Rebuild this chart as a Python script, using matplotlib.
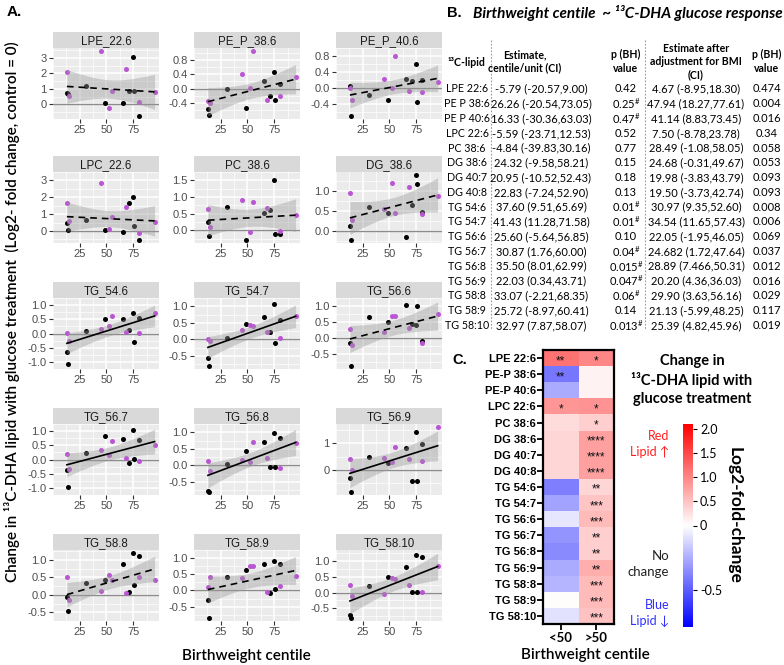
import numpy as np
import matplotlib
matplotlib.use("Agg")
import matplotlib.pyplot as plt
from matplotlib.colors import LinearSegmentedColormap, TwoSlopeNorm
import matplotlib.colorbar as mcolorbar

plt.rcParams['mathtext.fontset'] = 'custom'
plt.rcParams['mathtext.rm'] = 'Lato'
plt.rcParams['mathtext.bf'] = 'Lato:bold'

# ---------------- data: panel A ----------------
X_BLACK = [13.5, 14, 31, 49, 65.5, 71, 74.5, 76, 80]
X_PURPLE = [13, 15, 45, 52, 55, 68.5, 80, 95]

LIPIDS = ["LPE_22.6", "PE_P_38.6", "PE_P_40.6", "LPC_22.6", "PC_38.6", "DG_38.6",
          "TG_54.6", "TG_54.7", "TG_56.6", "TG_56.7", "TG_56.8", "TG_56.9",
          "TG_58.8", "TG_58.9", "TG_58.10"]
SIGNIFICANT = [False, False, False, False, False, False,
               True, True, False, True, True, True, False, False, True]

LPE_22_6_BLACK = [0.70, 0.65, 1.17, 0.11, 0.11, 0.88, 3.05, 0.88, -0.75]
LPE_22_6_PURPLE = [2.07, 0.55, 3.44, -0.22, 0.86, 2.30, 0.13, 0.80]
PE_P_38_6_BLACK = [-0.58, -0.74, 0.00, -0.55, 0.21, -0.21, 0.47, -0.32, 0.13]
PE_P_38_6_PURPLE = [-0.35, -0.42, 0.42, 0.02, 1.06, -0.34, -0.21, 0.34]
PE_P_40_6_BLACK = [0.05, -0.71, -0.17, -0.32, 0.23, 0.16, 0.61, -0.37, 0.19]
PE_P_40_6_PURPLE = [0.00, -0.30, 0.22, 0.00, 0.80, -0.08, -0.10, 0.14]
LPC_22_6_BLACK = [0.48, 0.05, 0.63, 0.04, -0.04, 1.66, 2.02, 0.27, -0.54]
LPC_22_6_PURPLE = [1.64, 0.57, 2.82, 0.14, 0.86, 1.43, -0.14, 0.54]
PC_38_6_BLACK = [0.24, -0.17, 0.71, -0.29, 0.52, 0.61, 1.50, -0.12, -0.12]
PC_38_6_PURPLE = [0.65, 0.10, 0.90, -0.05, 0.84, 0.66, -0.03, 0.47]
DG_38_6_BLACK = [0.13, -0.22, 0.61, 0.44, -0.15, 0.65, 1.40, 1.17, 0.48]
DG_38_6_PURPLE = [0.95, 0.28, 0.56, 1.20, 0.44, 1.10, 0.43, 0.87]
TG_54_6_BLACK = [-0.65, -1.09, 0.09, 0.50, 0.50, 0.11, 0.72, -0.29, 0.54]
TG_54_6_PURPLE = [0.03, -0.26, 0.16, 0.28, 0.60, 0.07, 0.03, 0.72]
TG_54_7_BLACK = [-0.55, -0.80, 0.04, 0.47, 0.67, 0.22, 1.06, -0.10, 0.60]
TG_54_7_PURPLE = [0.00, -0.04, 0.29, 0.44, 0.39, 0.22, 0.04, 0.70]
TG_56_6_BLACK = [-0.14, -0.86, 0.65, 0.50, 1.02, 0.45, 0.40, 1.00, -0.10]
TG_56_6_PURPLE = [0.28, -0.21, 0.18, 0.70, 0.68, 0.32, -0.16, 0.74]
TG_56_7_BLACK = [-0.37, -0.96, 0.24, 0.84, 0.73, -0.13, 1.03, 0.03, 0.67]
TG_56_7_PURPLE = [0.19, -0.34, 0.35, 0.16, 0.64, 0.06, -0.07, 0.51]
TG_56_8_BLACK = [-0.77, -0.80, 0.05, 0.43, 0.72, -0.05, 0.98, -0.05, 0.82]
TG_56_8_PURPLE = [0.13, -0.17, 0.15, 0.10, 0.72, 0.22, -0.07, 0.68]
TG_56_9_BLACK = [-0.32, -0.84, 0.49, 0.26, 0.82, -0.43, 1.43, -0.43, 0.97]
TG_56_9_PURPLE = [0.42, 0.00, 0.43, 0.28, 0.88, 0.40, 0.35, 1.62]
TG_58_8_BLACK = [-0.07, -0.46, 0.35, 0.41, 0.87, 0.08, 1.20, 0.27, 1.10]
TG_58_8_PURPLE = [0.50, -0.16, 0.10, 0.57, 0.41, 0.06, 0.52, 0.41]
TG_58_9_BLACK = [-0.29, -0.85, 0.42, 0.62, 0.81, -0.08, 0.91, 0.05, 0.81]
TG_58_9_PURPLE = [0.12, 0.42, 0.38, 0.74, 0.74, -0.05, 0.13, 0.45]
TG_58_10_BLACK = [-0.71, -0.80, 0.22, 0.51, 0.80, 0.03, 1.21, 0.03, 1.13]
TG_58_10_PURPLE = [0.25, -0.11, -0.04, 0.47, 0.42, 0.25, 0.03, 0.83]

Y_BLACK = [LPE_22_6_BLACK, PE_P_38_6_BLACK, PE_P_40_6_BLACK, LPC_22_6_BLACK, PC_38_6_BLACK,
           DG_38_6_BLACK, TG_54_6_BLACK, TG_54_7_BLACK, TG_56_6_BLACK, TG_56_7_BLACK,
           TG_56_8_BLACK, TG_56_9_BLACK, TG_58_8_BLACK, TG_58_9_BLACK, TG_58_10_BLACK]
Y_PURPLE = [LPE_22_6_PURPLE, PE_P_38_6_PURPLE, PE_P_40_6_PURPLE, LPC_22_6_PURPLE, PC_38_6_PURPLE,
            DG_38_6_PURPLE, TG_54_6_PURPLE, TG_54_7_PURPLE, TG_56_6_PURPLE, TG_56_7_PURPLE,
            TG_56_8_PURPLE, TG_56_9_PURPLE, TG_58_8_PURPLE, TG_58_9_PURPLE, TG_58_10_PURPLE]

Y_TICKS = [[0, 1, 2, 3], [-0.4, 0, 0.4, 0.8], [-0.4, 0, 0.4, 0.8], [0, 1, 2, 3],
           [0, 0.5, 1.0, 1.5], [0, 0.5, 1.0], [-1, -0.5, 0, 0.5, 1], [-0.5, 0, 0.5, 1],
           [-0.5, 0, 0.5, 1], [-1, -0.5, 0, 0.5, 1], [-0.5, 0, 0.5, 1], [0, 1],
           [-0.5, 0, 0.5, 1], [-0.5, 0, 0.5, 1], [-0.5, 0, 0.5, 1]]
X_TICKS = [25, 50, 75]

# ---------------- data: table B ----------------
TAB_LIPIDS = ["LPE 22:6", "PE P 38:6", "PE P 40:6", "LPC 22:6", "PC 38:6", "DG 38:6", "DG 40:7",
              "DG 40:8", "TG 54:6", "TG 54:7", "TG 56:6", "TG 56:7", "TG 56:8", "TG 56:9",
              "TG 58:8", "TG 58:9", "TG 58:10"]
TAB_EST = ["-5.79 (-20.57,9.00)", "26.26 (-20.54,73.05)", "16.33 (-30.36,63.03)",
           "-5.59 (-23.71,12.53)", "-4.84 (-39.83,30.16)", "24.32 (-9.58,58.21)",
           "20.95 (-10.52,52.43)", "22.83 (-7.24,52.90)", "37.60 (9.51,65.69)",
           "41.43 (11.28,71.58)", "25.60 (-5.64,56.85)", "30.87 (1.76,60.00)",
           "35.50 (8.01,62.99)", "22.03 (0.34,43.71)", "33.07 (-2.21,68.35)",
           "25.72 (-8.97,60.41)", "32.97 (7.87,58.07)"]
TAB_P = ["0.42", "0.25#", "0.47#", "0.52", "0.77", "0.15", "0.18", "0.13", "0.01#", "0.01#",
         "0.10", "0.04#", "0.015#", "0.047#", "0.06#", "0.14", "0.013#"]
TAB_ADJ = ["4.67 (-8.95,18.30)", "47.94 (18.27,77.61)", "41.14 (8.83,73.45)",
           "7.50 (-8.78,23.78)", "28.49 (-1.08,58.05)", "24.68 (-0.31,49.67)",
           "19.98 (-3.83,43.79)", "19.50 (-3.73,42.74)", "30.97 (9.35,52.60)",
           "34.54 (11.65,57.43)", "22.05 (-1.95,46.05)", "24.682 (1.72,47.64)",
           "28.89 (7.466,50.31)", "20.20 (4.36,36.03)", "29.90 (3.63,56.16)",
           "21.13 (-5.99,48.25)", "25.39 (4.82,45.96)"]
TAB_P_ADJ = ["0.474", "0.004", "0.016", "0.34", "0.058", "0.053", "0.093", "0.093", "0.008",
             "0.006", "0.069", "0.037", "0.012", "0.016", "0.029", "0.117", "0.019"]

# ---------------- data: heatmap C ----------------
HM_LIPIDS = ["LPE 22:6", "PE-P 38:6", "PE-P 40:6", "LPC 22:6", "PC 38:6", "DG 38:6", "DG 40:7",
             "DG 40:8", "TG 54:6", "TG 54:7", "TG 56:6", "TG 56:7", "TG 56:8", "TG 56:9",
             "TG 58:8", "TG 58:9", "TG 58:10"]
HM_GROUPS = ["<50", ">50"]
HM_LOW = [1.15, -0.42, -0.26, 0.86, 0.29, 0.33, 0.33, 0.33, -0.40, -0.29, -0.08, -0.33,
          -0.36, -0.26, -0.23, 0.03, -0.09]
HM_HIGH = [1.00, 0.10, 0.10, 0.90, 0.41, 0.78, 0.78, 0.78, 0.33, 0.49, 0.57, 0.41, 0.41,
           0.66, 0.57, 0.57, 0.50]
HM_STARS_LOW = ["**", "**", "", "*", "", "", "", "", "", "", "", "", "", "", "", "", ""]
HM_STARS_HIGH = ["*", "", "", "*", "*", "****", "****", "****", "**", "***", "***", "**",
                 "**", "**", "***", "***", "***"]
CB_TICKS = [-0.5, 0, 0.5, 1.0, 1.5, 2.0]
CB_LABELS = ["-0.5", "0", "0.5", "1.0", "1.5", "2.0"]

# ---------------- figure ----------------
W, H = 784, 665
fig = plt.figure(figsize=(W / 100, H / 100), dpi=100)


def ax_px(x0, y0, x1, y1):
    return fig.add_axes([x0 / W, 1 - y1 / H, (x1 - x0) / W, (y1 - y0) / H])


def ftext(x, y, s, **kw):
    return fig.text(x / W, 1 - y / H, s, **kw)


CAL = 'Lato'
ARIAL = 'Liberation Sans'
PURPLE = '#BA55D3'

COL_LEFT = [53, 194, 336]
PANEL_W = 106
ROW_TOP = [48, 172, 298, 424, 550]
PANEL_H = 71
STRIP_H = 16
T975 = 2.131

for i, name in enumerate(LIPIDS):
    r, c = divmod(i, 3)
    x0, y0 = COL_LEFT[c], ROW_TOP[r]
    ax = ax_px(x0, y0, x0 + PANEL_W, y0 + PANEL_H)
    sax = ax_px(x0, y0 - STRIP_H, x0 + PANEL_W, y0)
    sax.set_facecolor('#D9D9D9')
    sax.set_xticks([]); sax.set_yticks([])
    for sp in sax.spines.values():
        sp.set_visible(False)
    sax.text(0.5, 0.45, name, ha='center', va='center', fontsize=8.3,
             family=ARIAL, color='#1A1A1A', transform=sax.transAxes)

    xb = np.array(X_BLACK, float); yb = np.array(Y_BLACK[i], float)
    xp = np.array(X_PURPLE, float); yp = np.array(Y_PURPLE[i], float)
    xa = np.r_[xb, xp]; ya = np.r_[yb, yp]
    n = len(xa)
    b1, b0 = np.polyfit(xa, ya, 1)
    xs = np.linspace(xa.min(), xa.max(), 80)
    yhat = b0 + b1 * xs
    res = ya - (b0 + b1 * xa)
    s = np.sqrt(np.sum(res ** 2) / (n - 2))
    se = s * np.sqrt(1 / n + (xs - xa.mean()) ** 2 / np.sum((xa - xa.mean()) ** 2))
    lo_b, hi_b = yhat - T975 * se, yhat + T975 * se

    ylo = min(ya.min(), lo_b.min()); yhi = max(ya.max(), hi_b.max())
    pad = 0.05 * (yhi - ylo)
    xpad = 0.05 * (xa.max() - xa.min())
    ax.set_xlim(xa.min() - xpad, xa.max() + xpad)
    ax.set_ylim(ylo - pad, yhi + pad)

    ax.set_facecolor('#EBEBEB')
    for sp in ax.spines.values():
        sp.set_visible(False)
    yt = Y_TICKS[i]
    ax.set_yticks(yt)
    if all(float(v).is_integer() for v in yt):
        ax.set_yticklabels([f"{int(v)}" for v in yt])
    else:
        ax.set_yticklabels([f"{v:.1f}" for v in yt])
    ax.set_xticks(X_TICKS)
    ax.set_xticklabels([str(v) for v in X_TICKS])
    step = yt[1] - yt[0]
    ax.set_yticks([v + step / 2 for v in [yt[0] - step] + list(yt)], minor=True)
    ax.set_xticks([0, 12.5, 37.5, 62.5, 87.5], minor=True)
    ax.grid(which='major', color='white', lw=1.1, zorder=0)
    ax.grid(which='minor', color='white', lw=0.5, zorder=0)
    ax.set_axisbelow(True)
    ax.tick_params(which='major', length=3, width=0.8, color='#333333', labelsize=8,
                   labelcolor='#4D4D4D', pad=1.5)
    ax.tick_params(which='minor', length=0)
    for lab in ax.get_xticklabels() + ax.get_yticklabels():
        lab.set_family(ARIAL)

    ax.axhline(0, color='#8C8C8C', lw=1.0, zorder=1)
    ax.scatter(xb, yb, s=13, color='black', zorder=2, linewidths=0)
    ax.scatter(xp, yp, s=13, color=PURPLE, zorder=2, linewidths=0)
    ax.fill_between(xs, lo_b, hi_b, color='#999999', alpha=0.4, lw=0, zorder=3)
    if SIGNIFICANT[i]:
        ax.plot(xs, yhat, color='black', lw=1.2, zorder=4)
    else:
        ax.plot(xs, yhat, color='black', lw=1.2, ls=(0, (4, 3)), zorder=4)

ftext(7, 12, "A.", fontsize=11, fontweight='bold', family=ARIAL, va='center')
ftext(12, 312, "Change in \u00b9\u00b3C-DHA lipid with glucose treatment  (Log2- fold change, control = 0)",
      rotation=90, ha='center', va='center', fontsize=11, family=CAL, fontweight='semibold')
ftext(246, 656, "Birthweight centile", ha='center', va='center', fontsize=11, family=CAL,
      fontweight='semibold')

# ---------------- table B ----------------
ftext(447, 13, "B.", fontsize=10.5, fontweight='bold', family=ARIAL, va='center')
ftext(473, 13, "Birthweight centile  ~ \u00b9\u00b3C-DHA glucose response", fontsize=11,
      fontweight='bold', style='italic', family=CAL, va='center')

HDR_X = [467, 525, 626, 696, 767]
COLX = [467, 541, 626, 696, 767]
HDR_FS = 7.6
ftext(HDR_X[0], 62, "\u00b9\u00b3C-lipid", ha='center', va='center', fontsize=HDR_FS,
      fontweight='bold', family=CAL)
ftext(HDR_X[1], 61.5, "Estimate,\ncentile/unit (CI)", ha='center', va='center', fontsize=HDR_FS,
      fontweight='bold', family=CAL, linespacing=1.25)
ftext(HDR_X[2], 61.5, "p (BH)\nvalue", ha='center', va='center', fontsize=HDR_FS,
      fontweight='bold', family=CAL, linespacing=1.25)
ftext(HDR_X[3], 61.5, "Estimate after\nadjustment for BMI\n(CI)", ha='center', va='center',
      fontsize=HDR_FS, fontweight='bold', family=CAL, linespacing=1.2)
ftext(HDR_X[4], 61.5, "p (BH)\nvalue", ha='center', va='center', fontsize=HDR_FS,
      fontweight='bold', family=CAL, linespacing=1.25)

ROW_Y0, ROW_DY = 89, 14.77
BODY_FS = 8.0
for k in range(len(TAB_LIPIDS)):
    yy = ROW_Y0 + k * ROW_DY
    ftext(COLX[0], yy, TAB_LIPIDS[k], ha='center', va='center', fontsize=BODY_FS - 0.3,
          family=CAL)
    ftext(COLX[1], yy, TAB_EST[k], ha='center', va='center', fontsize=BODY_FS, family=CAL)
    pv = TAB_P[k]
    if pv.endswith('#'):
        pv = pv[:-1] + r"$^{\#}$"
    ftext(COLX[2], yy, pv, ha='center', va='center', fontsize=BODY_FS, family=CAL)
    ftext(COLX[3], yy, TAB_ADJ[k], ha='center', va='center', fontsize=BODY_FS, family=CAL)
    ftext(COLX[4], yy, TAB_P_ADJ[k], ha='center', va='center', fontsize=BODY_FS, family=CAL)

for xv in (490.7, 645):
    fig.add_artist(plt.Line2D([xv / W, xv / W], [1 - 40 / H, 1 - 330 / H], color='#9A9A9A',
                              lw=0.8, ls=(0, (1.5, 1.5))))

# ---------------- heatmap C ----------------
ftext(452, 360, "C.", fontsize=10.5, fontweight='bold', family=ARIAL, va='center')
cmap = LinearSegmentedColormap.from_list('bwr2', ['#0000FF', '#FFFFFF', '#FF0000'])
norm = TwoSlopeNorm(vmin=-0.79, vcenter=0.0, vmax=2.1)

hax = ax_px(543, 350, 614, 624)
vals = np.column_stack([HM_LOW, HM_HIGH])
hax.pcolormesh(np.arange(3), np.arange(len(HM_LIPIDS) + 1), vals, cmap=cmap, norm=norm)
hax.set_xlim(0, 2); hax.set_ylim(len(HM_LIPIDS), 0)
for k in range(len(HM_LIPIDS)):
    for j, st in enumerate((HM_STARS_LOW[k], HM_STARS_HIGH[k])):
        if st:
            hax.text(j + 0.5, k + 0.68, st, ha='center', va='center', fontsize=8.5,
                     family=ARIAL, color='#111111')
hax.set_yticks(np.arange(len(HM_LIPIDS)) + 0.5)
hax.set_yticklabels(HM_LIPIDS, fontsize=8, fontweight='bold', family=ARIAL)
hax.set_xticks([0.5, 1.5])
hax.set_xticklabels(HM_GROUPS, fontsize=9.5, fontweight='bold', family=CAL)
hax.tick_params(axis='y', length=4, width=1.3, pad=1)
hax.tick_params(axis='x', length=4, width=1.3, pad=2)
for sp in hax.spines.values():
    sp.set_linewidth(1.6)
ftext(585, 655, "Birthweight centile", ha='center', va='center', fontsize=11, family=CAL,
      fontweight='semibold')

cax = ax_px(683, 424, 693, 627)
cb = mcolorbar.ColorbarBase(cax, cmap=cmap, norm=norm, orientation='vertical')
cb.outline.set_visible(False)
cb.set_ticks(CB_TICKS)
cb.set_ticklabels(CB_LABELS)
cax.tick_params(length=3, width=0.8, labelsize=9, pad=2)
for lab in cax.get_yticklabels():
    lab.set_family(CAL)
ftext(735, 515, "Log2-fold-change", rotation=270, ha='center', va='center', fontsize=12.5,
      family=CAL, fontweight='bold')

ftext(692, 380, "Change in\n\u00b9\u00b3C-DHA lipid with\nglucose treatment", ha='center',
      va='center', fontsize=10.5, fontweight='bold', family=CAL, linespacing=1.35)
ftext(669, 444, "Red\nLipid \u2191", ha='right', va='center', fontsize=9, color='#FF2020',
      family=[CAL, 'DejaVu Sans'], linespacing=1.35)
ftext(669, 564, "No\nchange", ha='right', va='center', fontsize=9.5, color='#222222',
      family=CAL, linespacing=1.35)
ftext(669, 613, "Blue\nLipid \u2193", ha='right', va='center', fontsize=9, color='#3030FF',
      family=[CAL, 'DejaVu Sans'], linespacing=1.35)

fig.savefig("out.png", dpi=100)
